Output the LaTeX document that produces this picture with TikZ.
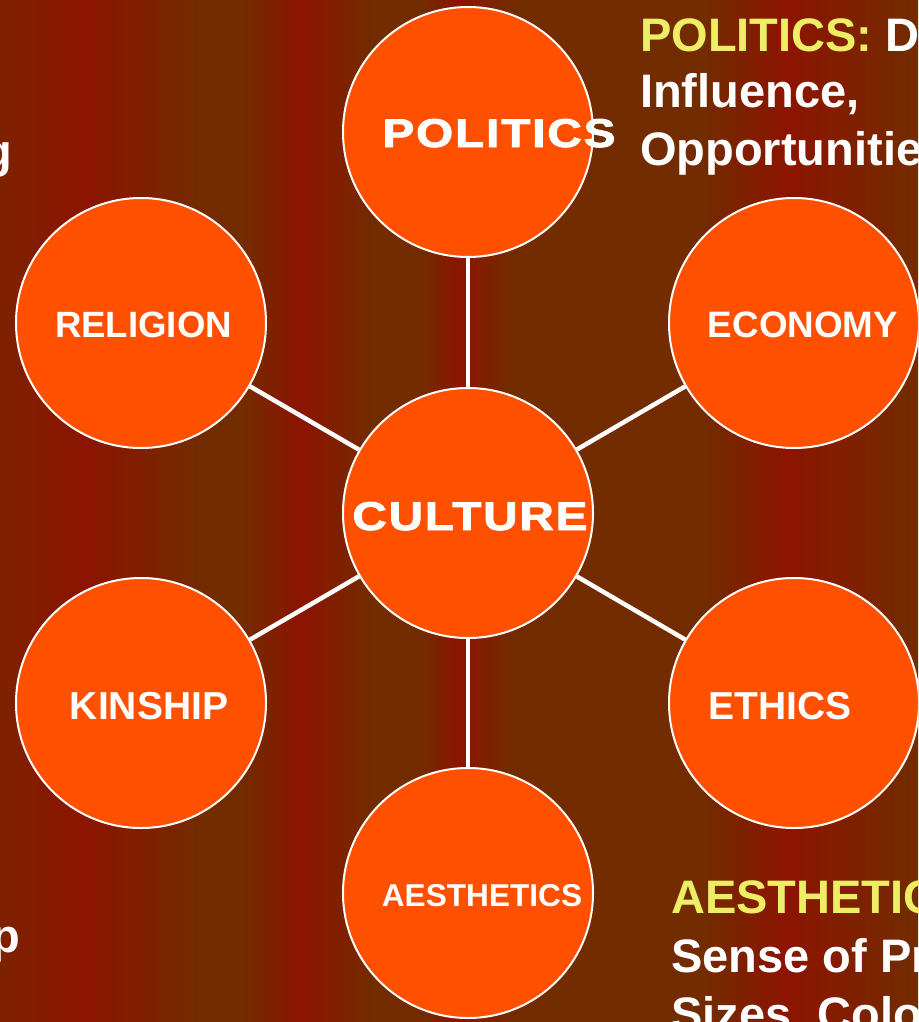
\documentclass[tikz,border=0pt]{standalone}
\usepackage{fontspec}
\setmainfont{Liberation Sans}
\newfontfamily\widefont[LetterSpace=4,FakeBold=2]{Liberation Sans}
\usepackage{graphicx}
\definecolor{bgB}{RGB}{114,44,0}
\definecolor{bgR}{RGB}{140,20,0}
\definecolor{bub}{RGB}{255,80,0}
\definecolor{yel}{RGB}{238,238,102}
\begin{document}
\begin{tikzpicture}[x=1pt,y=-1pt,
  bubble/.style={circle, fill=bub, draw=white, line width=2pt, minimum size=250pt, inner sep=0pt},
  link/.style={draw=white, line width=4.5pt},
  lab/.style={text=white, inner sep=0pt, anchor=base, font=\bfseries},
  body/.style={text=white, inner sep=0pt, anchor=base west, font=\bfseries\fontsize{47}{57}\selectfont},
  edge/.style={text=white, inner sep=0pt, anchor=base east, font=\bfseries\fontsize{47}{57}\selectfont}]
\clip (0,0) rectangle (918,1022);
% background stripes
\fill[left color=bgB!55!bgR, right color=bgR] (0,0) rectangle (85,1022);
\fill[left color=bgR, right color=bgB] (85,0) rectangle (205,1022);
\fill[bgB] (205,0) rectangle (240,1022);
\fill[left color=bgB, right color=bgR] (240,0) rectangle (300,1022);
\fill[left color=bgR, right color=bgB] (300,0) rectangle (375,1022);
\fill[bgB] (375,0) rectangle (420,1022);
\fill[left color=bgB, right color=bgR] (420,0) rectangle (460,1022);
\fill[left color=bgR, right color=bgB] (460,0) rectangle (510,1022);
\fill[bgB] (510,0) rectangle (700,1022);
\fill[left color=bgB, right color=bgR] (700,0) rectangle (785,1022);
\fill[left color=bgR, right color=bgB] (785,0) rectangle (918,1022);
% circles
\node[bubble] (cul) at (468,513) {};
\node[bubble] (pol) at (468,132) {};
\node[bubble] (rel) at (141,323) {};
\node[bubble] (eco) at (794,323) {};
\node[bubble] (kin) at (141,703) {};
\node[bubble] (eth) at (794,703) {};
\node[bubble] (aes) at (468,893) {};
% connectors
\foreach \n in {pol,rel,eco,kin,eth,aes}
  \draw[link] (cul) -- (\n);
% circle labels
\node[lab] (tcul) at (470,530) {\resizebox{235pt}{28pt}{\widefont\bfseries\fontsize{39}{40}\selectfont CULTURE}};
\node[lab] (tpol) at (499,147) {\resizebox{233pt}{28pt}{\widefont\bfseries\fontsize{39}{40}\selectfont POLITICS}};
\node[lab, font=\bfseries\fontsize{36.6}{40}\selectfont] (trel) at (143.5,337) {RELIGION};
\node[lab, font=\bfseries\fontsize{36.8}{40}\selectfont] (teco) at (803,337) {ECONOMY};
\node[lab, font=\bfseries\fontsize{39}{40}\selectfont] (tkin) at (149,719) {KINSHIP};
\node[lab, font=\bfseries\fontsize{39}{40}\selectfont] (teth) at (780,719) {ETHICS};
\node[lab, font=\bfseries\fontsize{31.6}{34}\selectfont] (taes) at (482,906) {AESTHETICS};
% side texts
\node[body] (p1) at (640,52) {\textcolor{yel}{POLITICS:} D};
\node[body] (p2) at (640,108) {Influence,};
\node[body] (p3) at (640,165) {Opportunitie};
\node[body] (a1) at (671,913) {\textcolor{yel}{AESTHETIC}};
\node[body] (a2) at (671,972) {Sense of Pr};
\node[body] (a3) at (671,1030) {Sizes, Colo};
\node[edge] (lg) at (12,167) {g};
\node[edge] (lp) at (20,952) {p};
\end{tikzpicture}
\end{document}
